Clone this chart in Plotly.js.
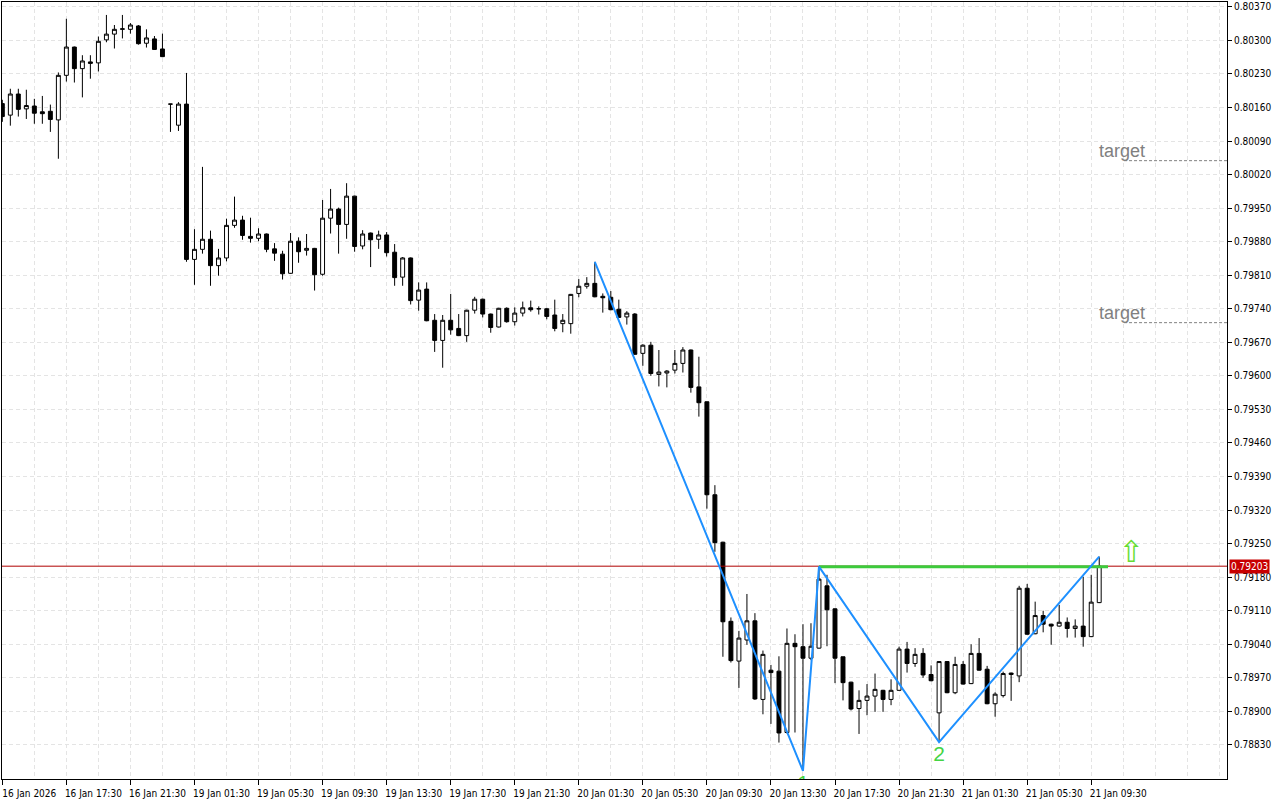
<!DOCTYPE html>
<html>
<head>
<meta charset="utf-8">
<script src="https://cdn.plot.ly/plotly-3.0.1.min.js"></script>
<style>
html,body{margin:0;padding:0;background:#fff;}
#chart{width:1280px;height:800px;}
</style>
</head>
<body>
<div id="chart"></div>
<script>
// ---- Data (M30 candles, index based) ----
const openP = [
0.80168,0.80144,0.80188,0.80157,0.80163,0.80151,0.80152,0.80134,0.80227,0.80286,
0.80241,0.80255,0.80253,0.80301,0.80313,0.80323,0.80323,0.80330,0.80294,0.80303,
0.80282,0.80167,0.80123,0.80167,0.79843,0.79864,0.79885,0.79830,0.79846,0.79914,
0.79925,0.79891,0.79887,0.79896,0.79865,0.79854,0.79814,0.79881,0.79862,0.79866,
0.79812,0.79929,0.79948,0.79916,0.79975,0.79871,0.79898,0.79885,0.79894,0.79858,
0.79806,0.79846,0.79758,0.79781,0.79716,0.79674,0.79716,0.79699,0.79684,0.79737,
0.79760,0.79729,0.79702,0.79741,0.79713,0.79731,0.79742,0.79740,0.79740,0.79727,
0.79709,0.79709,0.79772,0.79787,0.79793,0.79766,0.79764,0.79739,0.79723,0.79729,
0.79647,0.79664,0.79603,0.79606,0.79612,0.79626,0.79654,0.79577,0.79546,0.79352,
0.79253,0.79088,0.79005,0.79049,0.79089,0.78925,0.78986,0.78984,0.78856,0.79042,
0.79035,0.79011,0.79032,0.79162,0.79114,0.79014,0.78961,0.78906,0.78923,0.78932,
0.78944,0.78925,0.78944,0.79030,0.79000,0.79021,0.78977,0.78897,0.79004,0.78939,
0.78998,0.78958,0.79021,0.78988,0.78916,0.78933,0.78977,0.78974,0.79157,0.79062,
0.79100,0.79082,0.79078,0.79086,0.79073,0.79078,0.79056,0.79127];
const highP = [
0.80176,0.80199,0.80199,0.80197,0.80178,0.80184,0.80166,0.80233,0.80345,0.80287,
0.80269,0.80269,0.80308,0.80353,0.80332,0.80353,0.80336,0.80332,0.80323,0.80309,
0.80314,0.80167,0.80171,0.80232,0.79906,0.80036,0.79903,0.79865,0.79928,0.79974,
0.79934,0.79930,0.79908,0.79897,0.79877,0.79861,0.79898,0.79889,0.79896,0.79867,
0.79967,0.79990,0.79951,0.80002,0.79976,0.79904,0.79899,0.79903,0.79900,0.79875,
0.79848,0.79847,0.79795,0.79795,0.79729,0.79727,0.79771,0.79729,0.79738,0.79765,
0.79761,0.79730,0.79742,0.79743,0.79743,0.79755,0.79757,0.79745,0.79742,0.79759,
0.79729,0.79771,0.79802,0.79806,0.79838,0.79772,0.79777,0.79759,0.79735,0.79731,
0.79666,0.79671,0.79654,0.79612,0.79654,0.79660,0.79655,0.79640,0.79546,0.79372,
0.79254,0.79096,0.79068,0.79145,0.79105,0.79027,0.78997,0.79015,0.79073,0.79061,
0.79082,0.79084,0.79202,0.79185,0.79115,0.79014,0.78962,0.78944,0.78957,0.78979,
0.78945,0.78967,0.79035,0.79045,0.79032,0.79032,0.78996,0.79005,0.79005,0.79014,
0.79005,0.79040,0.79053,0.78995,0.78940,0.78983,0.78981,0.79162,0.79166,0.79129,
0.79110,0.79083,0.79122,0.79096,0.79092,0.79181,0.79185,0.79223];
const lowP = [
0.80130,0.80122,0.80141,0.80136,0.80126,0.80126,0.80109,0.80053,0.80214,0.80212,
0.80181,0.80220,0.80235,0.80296,0.80283,0.80304,0.80314,0.80291,0.80285,0.80280,
0.80265,0.80109,0.80111,0.79838,0.79790,0.79855,0.79788,0.79809,0.79839,0.79909,
0.79884,0.79878,0.79881,0.79858,0.79840,0.79801,0.79813,0.79836,0.79851,0.79778,
0.79809,0.79897,0.79855,0.79886,0.79859,0.79864,0.79827,0.79865,0.79849,0.79788,
0.79788,0.79749,0.79736,0.79714,0.79650,0.79617,0.79686,0.79683,0.79671,0.79730,
0.79722,0.79690,0.79701,0.79711,0.79705,0.79724,0.79734,0.79728,0.79718,0.79693,
0.79691,0.79688,0.79764,0.79782,0.79764,0.79732,0.79737,0.79721,0.79707,0.79644,
0.79621,0.79600,0.79578,0.79576,0.79605,0.79607,0.79565,0.79515,0.79323,0.79233,
0.79014,0.79002,0.78949,0.79039,0.78924,0.78894,0.78874,0.78835,0.78854,0.78856,
0.78776,0.79007,0.79031,0.79036,0.78959,0.78923,0.78902,0.78853,0.78892,0.78899,
0.78899,0.78913,0.78943,0.78981,0.78993,0.78970,0.78963,0.78836,0.78938,0.78936,
0.78956,0.78957,0.78985,0.78915,0.78889,0.78929,0.78922,0.78961,0.79060,0.79061,
0.79065,0.79039,0.79077,0.79054,0.79054,0.79035,0.79055,0.79126];
const closeP = [
0.80141,0.80188,0.80156,0.80164,0.80148,0.80147,0.80135,0.80227,0.80286,0.80241,
0.80257,0.80252,0.80298,0.80313,0.80323,0.80324,0.80332,0.80293,0.80305,0.80281,
0.80266,0.80167,0.80167,0.79843,0.79864,0.79885,0.79830,0.79846,0.79914,0.79925,
0.79893,0.79887,0.79896,0.79864,0.79856,0.79813,0.79881,0.79859,0.79866,0.79811,
0.79929,0.79948,0.79916,0.79975,0.79870,0.79896,0.79884,0.79894,0.79857,0.79805,
0.79846,0.79757,0.79779,0.79715,0.79674,0.79716,0.79696,0.79684,0.79737,0.79760,
0.79729,0.79701,0.79741,0.79713,0.79731,0.79742,0.79738,0.79740,0.79724,0.79699,
0.79716,0.79770,0.79787,0.79793,0.79765,0.79763,0.79738,0.79722,0.79731,0.79645,
0.79664,0.79605,0.79608,0.79610,0.79626,0.79654,0.79576,0.79544,0.79352,0.79252,
0.79087,0.79006,0.79053,0.79089,0.78926,0.79019,0.78981,0.78855,0.79042,0.79035,
0.79011,0.79036,0.79176,0.79112,0.79011,0.78960,0.78905,0.78923,0.78932,0.78946,
0.78925,0.78944,0.79030,0.79000,0.79019,0.78976,0.78964,0.79004,0.78939,0.78998,
0.78957,0.79021,0.78986,0.78916,0.78936,0.78979,0.78980,0.79157,0.79061,0.79100,
0.79082,0.79078,0.79086,0.79073,0.79078,0.79056,0.79128,0.79203];

const tickIdx = [0,8,16,24,32,40,48,56,64,72,80,88,96,104,112,120,128,136];
const tickLabels = ["16 Jan 2026","16 Jan 17:30","16 Jan 21:30","19 Jan 01:30","19 Jan 05:30",
  "19 Jan 09:30","19 Jan 13:30","19 Jan 17:30","19 Jan 21:30","20 Jan 01:30","20 Jan 05:30",
  "20 Jan 09:30","20 Jan 13:30","20 Jan 17:30","20 Jan 21:30","21 Jan 01:30","21 Jan 05:30","21 Jan 09:30"];
const priceTicks = [0.78830,0.78900,0.78970,0.79040,0.79110,0.79180,0.79250,0.79320,0.79390,
  0.79460,0.79530,0.79600,0.79670,0.79740,0.79810,0.79880,0.79950,0.80020,0.80090,0.80160,
  0.80230,0.80300,0.80370];

const zigzagX = [74, 100, 102, 117, 137];
const zigzagY = [0.79838, 0.78776, 0.79202, 0.78836, 0.79223];
const necklineX = [102, 138.1];
const necklineY = [0.79202, 0.79202];
const currentPrice = 0.79203;
const targetPrices = [0.80049, 0.79711];
const targetStartX = 140.1;
const waveX = [100, 117];
const waveLabelY = [0.78768, 0.78830];
const waveText = ["1", "2"];
const arrowX = [141];
const arrowY = [0.79228];

// ---- Build ----
const idx = openP.map((_, i) => i);
const xEnd = 152.96;

const traces = [];
traces.push({
  type: 'candlestick', x: idx, open: openP, high: highP, low: lowP, close: closeP,
  increasing: {line: {color: '#000000', width: 1}, fillcolor: '#ffffff'},
  decreasing: {line: {color: '#000000', width: 1}, fillcolor: '#000000'},
  whiskerwidth: 0, hoverinfo: 'skip', showlegend: false
});
traces.push({
  type: 'scatter', mode: 'lines', x: [-1, xEnd + 1], y: [currentPrice, currentPrice],
  line: {color: '#B00000', width: 1}, hoverinfo: 'skip', showlegend: false
});
traces.push({
  type: 'scatter', mode: 'lines', x: necklineX, y: necklineY,
  line: {color: '#3CCB3C', width: 3}, hoverinfo: 'skip', showlegend: false
});
traces.push({
  type: 'scatter', mode: 'lines', x: zigzagX, y: zigzagY,
  line: {color: '#1E90FF', width: 2}, hoverinfo: 'skip', showlegend: false
});
targetPrices.forEach(tp => {
  traces.push({
    type: 'scatter', mode: 'lines', x: [targetStartX, xEnd + 1], y: [tp, tp],
    line: {color: '#808080', width: 1, dash: '3px,2px'}, hoverinfo: 'skip', showlegend: false
  });
});
traces.push({
  type: 'scatter', mode: 'text', x: waveX, y: waveLabelY, text: waveText,
  textposition: 'bottom center', cliponaxis: true,
  textfont: {family: 'Liberation Sans, Arial, sans-serif', size: 21, color: '#44D444'},
  hoverinfo: 'skip', showlegend: false
});
traces.push({
  type: 'scatter', mode: 'text', x: arrowX, y: arrowY, text: ['\u21E7'],
  textposition: 'middle center', cliponaxis: false,
  textfont: {family: 'DejaVu Sans, sans-serif', size: 30, color: '#66DD33'},
  hoverinfo: 'skip', showlegend: false
});

const annotations = targetPrices.map(tp => ({
  x: targetStartX, y: tp, xref: 'x', yref: 'y', text: 'target', showarrow: false,
  xanchor: 'center', yanchor: 'bottom', yshift: -2, xshift: -2,
  font: {family: 'Liberation Sans, Arial, sans-serif', size: 18, color: '#808080'}
}));
annotations.push({
  x: 1, y: currentPrice, xref: 'paper', yref: 'y', text: currentPrice.toFixed(5),
  showarrow: false, xanchor: 'left', yanchor: 'middle', xshift: 2,
  bgcolor: '#C80000', borderpad: 1,
  font: {family: 'DejaVu Sans Condensed, Liberation Sans, sans-serif', size: 10, color: '#ffffff'}
});

const gridCol = '#E4E4E4';
const axFont = {family: 'DejaVu Sans Condensed, Liberation Sans, sans-serif', size: 10, color: '#000000'};

const layout = {
  width: 1280, height: 800,
  margin: {l: 2, r: 53, t: 2, b: 21, pad: 0},
  paper_bgcolor: '#ffffff', plot_bgcolor: '#ffffff',
  showlegend: false, hovermode: false, dragmode: false,
  xaxis: {
    type: 'linear', range: [-0.04, xEnd],
    tickmode: 'array', tickvals: tickIdx, ticktext: tickLabels,
    ticks: 'outside', ticklen: 5, tickcolor: '#000', tickwidth: 1,
    ticklabelshift: 27, ticklabelstandoff: 0,
    showgrid: true, gridcolor: gridCol, griddash: '4px,3px', gridwidth: 1,
    minor: {tickmode: 'linear', tick0: 0, dtick: 4, showgrid: true, gridcolor: gridCol, griddash: '4px,3px', ticks: ''},
    showline: true, linecolor: '#000', linewidth: 1, mirror: true,
    zeroline: false, rangeslider: {visible: false}, fixedrange: true,
    tickfont: axFont
  },
  yaxis: {
    side: 'right', range: [0.78759, 0.80380],
    tickmode: 'array', tickvals: priceTicks, ticktext: priceTicks.map(v => v.toFixed(5)),
    ticks: 'outside', ticklen: 4, tickcolor: '#000', tickwidth: 1,
    showgrid: true, gridcolor: gridCol, griddash: '4px,3px', gridwidth: 1,
    showline: true, linecolor: '#000', linewidth: 1, mirror: true,
    zeroline: false, fixedrange: true,
    tickfont: axFont
  },
  annotations: annotations
};

Plotly.newPlot('chart', traces, layout, {staticPlot: true, displayModeBar: false});
</script>
</body>
</html>
